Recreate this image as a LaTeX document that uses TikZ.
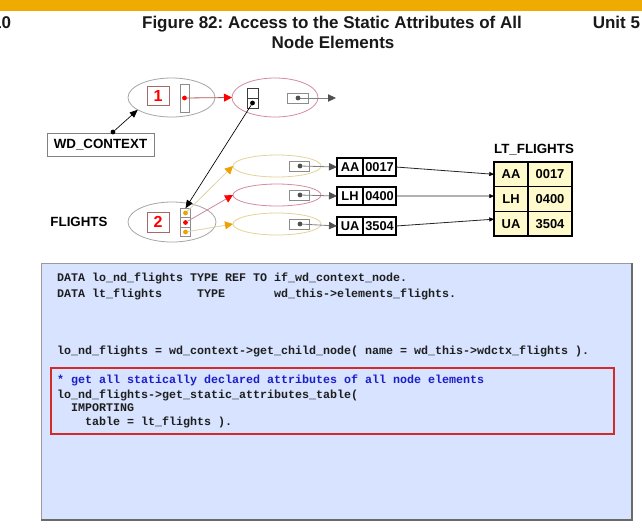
\documentclass[tikz,border=0pt]{standalone}
\usepackage{fontspec}
\setmainfont{Liberation Sans}
\setmonofont{Liberation Mono}
\usetikzlibrary{shapes.geometric, arrows.meta}
\frenchspacing

\definecolor{sapgold}{HTML}{F0AB00}
\definecolor{ovalgray}{HTML}{A6A6A6}
\definecolor{ovalpink}{HTML}{D48C9E}
\definecolor{ovalyellow}{HTML}{E2D49A}
\definecolor{cellgray}{HTML}{8C8C8C}
\definecolor{darkcell}{HTML}{3C3C3C}
\definecolor{numred}{HTML}{A86868}
\definecolor{dotgray}{HTML}{505050}
\definecolor{linered}{HTML}{B05858}
\definecolor{linetan}{HTML}{E0D4A8}
\definecolor{linepink}{HTML}{D08898}
\definecolor{tiporange}{HTML}{F0A000}
\definecolor{tablefill}{HTML}{FFFACC}
\definecolor{codebg}{HTML}{D7E3FF}
\definecolor{boxedge}{HTML}{9A9A9A}
\definecolor{shadowgray}{HTML}{6A6A6A}
\definecolor{codered}{HTML}{D42A2A}
\definecolor{codeink}{HTML}{1E1E1E}
\definecolor{codeblue}{HTML}{1C1CC8}
\definecolor{labelgray}{HTML}{808080}

\begin{document}
\begin{tikzpicture}[x=0.75pt, y=-0.75pt,
  every node/.style={inner sep=0pt, outer sep=0pt},
  sz/.style 2 args={minimum width=#1*0.75pt, minimum height=#2*0.75pt},
  oval/.style={ellipse, draw=ovalgray, line width=0.6pt},
  cell/.style={rectangle, draw=cellgray, line width=0.6pt},
  dot/.style={circle, minimum size=4.8*0.75pt},
  numbox/.style={rectangle, draw=numred, line width=0.6pt, text=red,
    font=\bfseries\fontsize{12}{13}\selectfont},
  lbl/.style={font=\bfseries\fontsize{10}{12}\selectfont},
  valbox/.style={rectangle, draw=black, line width=1.6pt, sz={#1}{18},
    font=\bfseries\fontsize{9.6}{11}\selectfont},
  tcell/.style={rectangle, draw=black, line width=1.1pt, fill=tablefill, sz={#1}{24.7},
    font=\bfseries\fontsize{9.7}{11}\selectfont},
  code/.style={font=\ttfamily\bfseries\fontsize{8.75}{10}\selectfont, text=codeink, anchor=base west},
  heading/.style={font=\bfseries\fontsize{12.75}{15}\selectfont, text=black!90},
  grayarrow/.style={draw=labelgray, line width=0.6pt,
    -{Triangle[length=6pt, width=5.5pt, color=dotgray]}},
  blackarrow/.style={draw=black, line width=0.5pt,
    -{Triangle[length=6pt, width=5pt, color=black]}},
  redarrow/.style={draw=linered, line width=0.6pt,
    -{Triangle[length=6pt, width=6pt, color=red]}},
  pinkarrow/.style={draw=linepink, line width=0.6pt,
    -{Triangle[length=6pt, width=6pt, color=red]}},
  tanarrow/.style={draw=linetan, line width=0.6pt,
    -{Triangle[length=6pt, width=6pt, color=tiporange]}},
  thinarrow/.style={draw=black!85, line width=0.6pt,
    -{Triangle[length=3.5pt, width=3pt, color=black]}},
]
% page and header band
\fill[white] (0,0) rectangle (642,529);
\useasboundingbox (0,0) rectangle (642,529);
\fill[sapgold] (0,0) rectangle (642,11);

\node[heading, anchor=base east] (pg) at (11,28) {10};
\node[heading, anchor=base] (t1) at (332,28) {Figure 82: Access to the Static Attributes of All};
\node[heading, anchor=base] (t2) at (333,48) {Node Elements};
\node[heading, anchor=base east] (unit) at (640,28) {Unit 5};

% context root element
\node[oval, sz={87}{39}] (e1) at (171.5,97.5) {};
\node[numbox, sz={22}{19}] (n1) at (158,95.5) {1};
\node[cell, sz={9}{28}] (s1) at (184.5,98) {};
\node[dot, fill=red] (d1) at (184.5,98) {};

% FLIGHTS node reference
\node[oval, draw=ovalpink, sz={86}{39}] (e2) at (275,97.5) {};
\node[cell, draw=darkcell, sz={11}{10}] (v2a) at (252.5,93) {};
\node[cell, draw=darkcell, sz={11}{10}] (v2b) at (252.5,103) {};
\node[dot, fill=black] (d2) at (252.5,103) {};
\node[cell, sz={21}{10}] (h2) at (297.5,98) {};
\node[dot, fill=dotgray] (d3) at (298,98) {};
\coordinate (x2) at (336,98);

\draw[grayarrow] (d3) -- (x2);
\draw[redarrow] (d1) -- (e2.west);

% WD_CONTEXT label
\node[rectangle, draw=labelgray, line width=0.7pt, sz={107}{23}, lbl] (wd) at (100.5,144.5) {WD\_CONTEXT};
\node[dot, fill=black] (wdd) at (113,132) {};
\draw[blackarrow] (wdd) -- (e1.200);

% FLIGHTS node with its three elements
\node[oval, sz={88}{40}] (e3) at (172,222) {};
\node[numbox, sz={22}{20}] (n2) at (158,222) {2};
\node[cell, sz={10}{9.5}] (c3a) at (185.5,213) {};
\node[cell, sz={10}{9.5}] (c3b) at (185.5,222.5) {};
\node[cell, sz={10}{9.5}] (c3c) at (185.5,232) {};
\node[dot, fill=tiporange] (o1) at (185.5,213) {};
\node[dot, fill=red] (r1) at (185.5,222.5) {};
\node[dot, fill=tiporange] (o2) at (185.5,232) {};
\node[lbl] (fl) at (79,222) {FLIGHTS};

\draw[blackarrow] (d2) -- (c3a.north);

% element objects
\node[oval, draw=ovalyellow, sz={88}{22}] (ea) at (277,166) {};
\node[oval, draw=ovalpink, sz={88}{22}] (eb) at (277,195) {};
\node[oval, draw=ovalyellow, sz={88}{22}] (ec) at (277,224) {};
\node[cell, sz={20}{10}] (ha) at (299,166) {};
\node[cell, sz={20}{10}] (hb) at (299,195) {};
\node[cell, sz={20}{10}] (hc) at (299,224) {};
\node[dot, fill=dotgray] (da) at (300,166) {};
\node[dot, fill=dotgray] (db) at (300,195) {};
\node[dot, fill=dotgray] (dc) at (300,224) {};

\draw[tanarrow] (o1) -- (ea.west);
\draw[pinkarrow] (r1) -- (eb.west);
\draw[tanarrow] (o2) -- (ec.west);

% attribute values of each element
\node[valbox=26] (ka) at (350,167) {AA};
\node[valbox=33] (va) at (379.5,167) {0017};
\node[valbox=26] (kb) at (350,196) {LH};
\node[valbox=33] (vb) at (379.5,196) {0400};
\node[valbox=26] (kc) at (350,226) {UA};
\node[valbox=33] (vc) at (379.5,226) {3504};

\draw[grayarrow] (da) -- (ka.west);
\draw[grayarrow] (db) -- (kb.west);
\draw[grayarrow] (dc) -- (kc.west);

% internal table LT_FLIGHTS
\node[lbl] (lt) at (534,150) {LT\_FLIGHTS};
\node[tcell=34] (t11) at (511,174.3) {AA};
\node[tcell=44] (t12) at (550,174.3) {0017};
\node[tcell=34] (t21) at (511,199) {LH};
\node[tcell=44] (t22) at (550,199) {0400};
\node[tcell=34] (t31) at (511,223.7) {UA};
\node[tcell=44] (t32) at (550,223.7) {3504};
\draw[line width=1.8pt] (t11.north west) rectangle (t32.south east);

\draw[thinarrow] (va.east) -- (t11.west);
\draw[thinarrow] (vb.east) -- ([yshift=2.2pt]t21.west);
\draw[thinarrow] (vc.east) -- ([yshift=3.4pt]t31.west);

% ABAP source listing
\node[rectangle, fill=codebg, draw=boxedge, line width=0.6pt, sz={591}{257}] (cb) at (336.5,391.5) {};
\draw[shadowgray, line width=1.4pt] (cb.north east) -- (cb.south east) -- (cb.south west);
\node[rectangle, draw=codered, line width=1pt, sz={563}{66}] (rb) at (332.5,401) {};

\node[code] (l1) at (57,281) {DATA lo\_nd\_flights TYPE REF TO if\_wd\_context\_node.};
\node[code] (l2) at (57,297) {DATA lt\_flights\ \ \ \ \ TYPE\ \ \ \ \ \ \ wd\_this->elements\_flights.};
\node[code] (l3) at (57,354) {lo\_nd\_flights = wd\_context->get\_child\_node( name = wd\_this->wdctx\_flights ).};
\node[code, text=codeblue] (l4) at (57,383) {* get all statically declared attributes of all node elements};
\node[code] (l5) at (57,398) {lo\_nd\_flights->get\_static\_attributes\_table(};
\node[code] (l6) at (57,411.5) {\ \ IMPORTING};
\node[code] (l7) at (57,425) {\ \ \ \ table = lt\_flights ).};
\end{tikzpicture}
\end{document}
